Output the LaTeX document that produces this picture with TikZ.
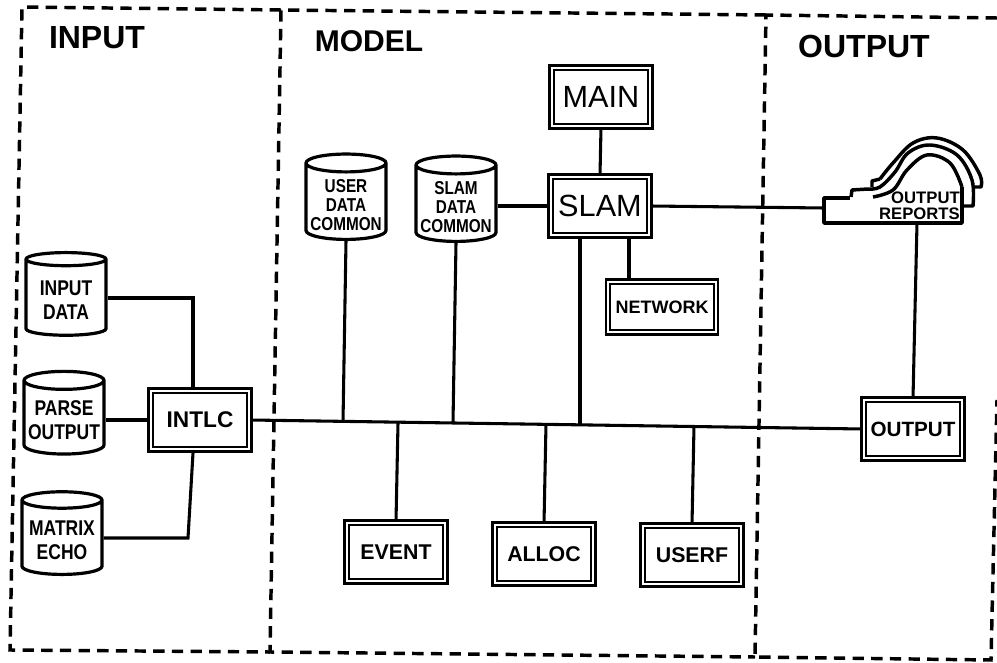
\documentclass[tikz,border=0pt]{standalone}
\usepackage{fontspec}
\usetikzlibrary{calc,positioning,shapes.geometric}
\setmainfont{Liberation Sans}
\newfontfamily\narrowfont[FakeStretch=0.82]{Liberation Sans}
\newcommand{\ingap}{\mbox{}\\[-4pt]}
\newcommand{\comgap}{\mbox{}\\[0pt]}
\tikzset{
  region/.style={line width=2.6pt,dash pattern=on 8.5pt off 5.5pt},
  heading/.style={font=\fontsize{24}{28}\selectfont\bfseries},
  prog/.style={draw,line width=1.8pt,double,double distance=1.5pt,inner sep=0pt,
    minimum width=74pt,minimum height=44pt,font=\fontsize{16}{19}\selectfont\bfseries},
  bigprog/.style={prog,font=\fontsize{23}{27}\selectfont},
  store/.style={draw,line width=2.4pt,cylinder,shape border rotate=90,aspect=0.25,
    inner sep=0pt,minimum width=60pt,minimum height=62pt,align=center},
  inlbl/.style={font=\fontsize{16}{18.5}\selectfont\narrowfont\bfseries},
  comlbl/.style={font=\fontsize{14}{14.2}\selectfont\narrowfont\bfseries},
  conn/.style={line width=2.3pt},
  sheet/.style={line width=2.6pt,line join=round},
}
\begin{document}
\begin{tikzpicture}[x=0.75pt,y=-0.75pt]
  \useasboundingbox (0,0) rectangle (997,663);
  % regions
  \draw[region] (281,10) -- (22,7) -- (10,650) -- (270,652);
  \draw[region] (766,15) -- (281,10) -- (270,652) -- (755,657);
  \draw[region] (997,18) -- (766,15) -- (755,657) -- (991,660) -- (997,400);
  \node[heading] (hin) at (97,38) {INPUT};
  \node[heading,font=\fontsize{22.5}{28}\selectfont\bfseries] (hmod) at (369,41) {MODEL};
  \node[heading] (hout) at (864,46) {OUTPUT};
  % programs
  \node[bigprog] (main) at (601,97) {MAIN};
  \node[bigprog] (slam) at (600,206) {SLAM};
  \node[prog,minimum width=81pt,minimum height=38pt,font=\fontsize{13.5}{16}\selectfont\bfseries] (network) at (662,307) {NETWORK};
  \node[prog,font=\fontsize{17}{20}\selectfont\bfseries] (intlc) at (200,420) {INTLC};
  \node[prog,font=\fontsize{15.5}{18}\selectfont\bfseries] (outbox) at (913,429) {OUTPUT};
  \node[prog] (event) at (396,552) {EVENT};
  \node[prog] (alloc) at (544,554) {ALLOC};
  \node[prog] (userf) at (692,555) {USERF};
  % data stores
  \node[store,inlbl] (indata) at (66,298) {\ingap INPUT\\DATA};
  \node[store,inlbl] (parse) at (64,418) {\ingap PARSE\\OUTPUT};
  \node[store,inlbl] (matrix) at (62,538) {\ingap MATRIX\\ECHO};
  \node[store,comlbl] (usercom) at (346,202) {\comgap USER\\DATA\\COMMON};
  \node[store,comlbl] (slamcom) at (456,204) {\comgap SLAM\\DATA\\COMMON};
  % output reports
  \draw[sheet] plot[smooth,tension=0.6] coordinates {(873,197) (893,190) (907,170) (927,155) (950,163) (962,187)};
  \draw[sheet] (851,197) -- (852,190) -- (868,189) plot[smooth,tension=0.6] coordinates {(868,189) (880,187) (895,172) (908,153) (930,145) (957,155) (972,180) (973,206)} -- (962,206);
  \draw[sheet] (872,187) -- (872,181) -- (880,179) plot[smooth,tension=0.6] coordinates {(880,179) (893,163) (913,143) (937,138) (963,150) (980,175) (981,187)} -- (973,187);
  \draw[sheet] (850,198) -- (824,198) -- (824,223) -- (962,223) -- (962,187);
  \node[anchor=east,align=right,inner sep=0pt,font=\fontsize{12.5}{12}\selectfont\bfseries] (reports) at (960,206) {OUTPUT\\REPORTS};
  \coordinate (repw) at (824,208);
  \coordinate (reps) at (917,223);
  % bus tappings
  \coordinate (busa) at (343,422);
  \coordinate (busb) at (453,423);
  \coordinate (busc) at (580,425);
  \coordinate (netup) at (629,279);
  % connectors
  \draw[conn] (indata.east |- 0,298) -- (193,298) -- (193,387);
  \draw[conn] (parse.east |- intlc.west) -- (intlc.west);
  \draw[conn] (matrix.east |- 0,538) -- (188,538) -- (193,453);
  \draw[conn] (intlc.east) -- (outbox.west);
  \draw[conn] (usercom.south) -- (busa);
  \draw[conn] (slamcom.south) -- (busb);
  \draw[conn] (slam.south -| busc) -- (busc);
  \draw[conn] (slam.south -| netup) -- (netup);
  \draw[conn] (main.south) -- (slam.north);
  \draw[conn] (slamcom.east |- slam.west) -- (slam.west);
  \draw[conn] (slam.east) -- (repw);
  \draw[conn] (reps) -- (outbox.north);
  \draw[conn] (event.north) -- (398,423);
  \draw[conn] (alloc.north) -- (546,424);
  \draw[conn] (userf.north) -- (694,426);
\end{tikzpicture}
\end{document}
